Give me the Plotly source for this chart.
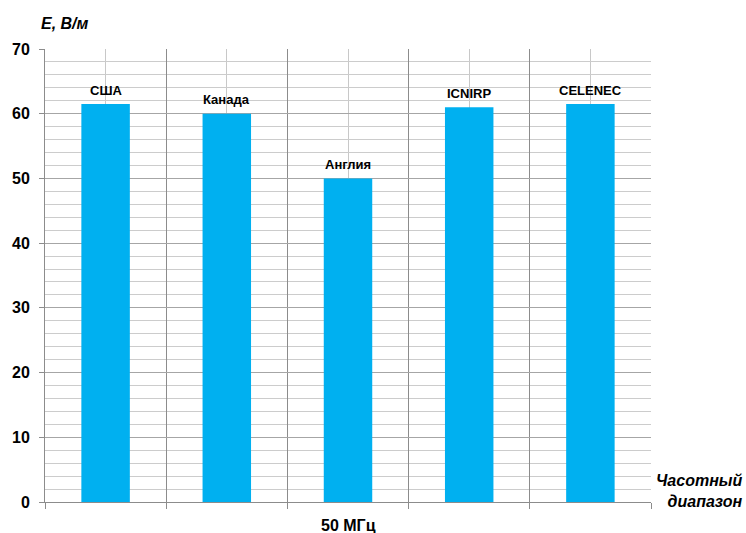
import plotly.graph_objects as go

categories = ["США", "Канада", "Англия", "ICNIRP", "CELENEC"]
values = [61.5, 60.0, 50.0, 61.0, 61.5]
group_label = "50 МГц"
y_title = "E, В/м"
x_title = "Часотный<br>диапазон"
y_ticks = [0, 10, 20, 30, 40, 50, 60, 70]

positions = list(range(len(categories)))

fig = go.Figure()
fig.add_trace(go.Bar(
    x=positions, y=values, width=0.4,
    marker=dict(color="#00B0F0", line=dict(width=0)),
    hoverinfo="skip",
))

for p, v, c in zip(positions, values, categories):
    fig.add_annotation(x=p, y=v, text="<b>%s</b>" % c, showarrow=False,
                       yshift=14, font=dict(family="Liberation Sans", size=13, color="#000000"))

fig.update_layout(
    width=746, height=533,
    margin=dict(l=45, r=95, t=49, b=31),
    plot_bgcolor="white", paper_bgcolor="white",
    showlegend=False,
    bargap=0.6,
    font=dict(family="Liberation Sans", color="#000000"),
)

fig.update_xaxes(
    range=[-0.5, len(categories) - 0.5],
    tickmode="linear", tick0=-0.5, dtick=1,
    showticklabels=False,
    ticks="outside", ticklen=6, tickcolor="#8c8c8c",
    showgrid=True, gridcolor="#8c8c8c", gridwidth=1,
    minor=dict(tick0=-0.5, dtick=0.5, showgrid=True, gridcolor="#c8c8c8", gridwidth=1),
    showline=True, linecolor="#8c8c8c", linewidth=1,
    zeroline=False, fixedrange=True,
)

fig.update_yaxes(
    range=[0, 70],
    tickmode="array", tickvals=y_ticks, ticktext=["<b>%d</b>" % t for t in y_ticks],
    tickfont=dict(family="Liberation Sans", size=16, color="#000000"),
    ticks="outside", ticklen=5, tickcolor="#8c8c8c",
    ticklabelstandoff=6,
    showgrid=True, gridcolor="#a6a6a6", gridwidth=1,
    minor=dict(dtick=2, showgrid=True, gridcolor="#cccccc", gridwidth=1),
    showline=True, linecolor="#8c8c8c", linewidth=1,
    zeroline=False, fixedrange=True,
)

fig.add_annotation(xref="paper", yref="paper", x=0.5, y=0, yshift=-23, yanchor="middle",
                   text="<b>%s</b>" % group_label, showarrow=False,
                   font=dict(family="Liberation Sans", size=16, color="#000000"))
fig.add_annotation(xref="paper", yref="paper", x=0, xshift=-6, y=1, yshift=26,
                   xanchor="left", yanchor="middle",
                   text="<b><i>%s</i></b>" % y_title, showarrow=False,
                   font=dict(family="Liberation Sans", size=16, color="#000000"))
fig.add_annotation(xref="paper", yref="paper", x=1, xshift=94, y=0, yshift=-10,
                   xanchor="right", yanchor="bottom", align="right",
                   text="<b><i>%s</i></b>" % x_title, showarrow=False,
                   font=dict(family="Liberation Sans", size=16, color="#000000"))

fig.write_html("out.html")
